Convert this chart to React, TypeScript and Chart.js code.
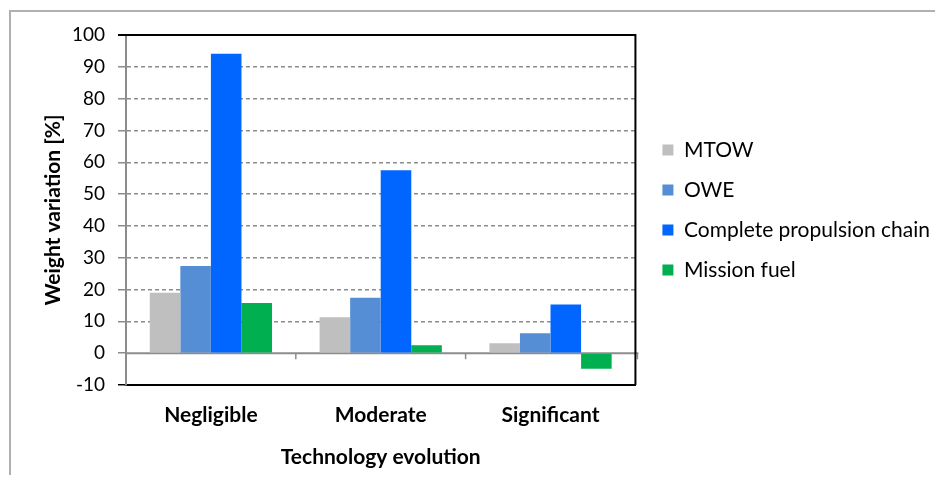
import React, { useEffect, useRef } from "react";
import { Chart, registerables } from "chart.js";

Chart.register(...registerables);

const categories = ["Negligible", "Moderate", "Significant"];
const seriesNames = ["MTOW", "OWE", "Complete propulsion chain", "Mission fuel"];
const mtowValues = [19.0, 11.3, 3.1];
const oweValues = [27.4, 17.4, 6.3];
const propulsionValues = [94.1, 57.5, 15.3];
const fuelValues = [15.8, 2.5, -4.9];
const seriesColors = ["#bfbfbf", "#558ed5", "#0066ff", "#00b050"];
const yMin = -10;
const yMax = 100;
const yStep = 10;
const yTitle = "Weight variation [%]";
const xTitle = "Technology evolution";

const FONT = "Lato, 'DejaVu Sans', sans-serif";

const framePlugin = {
  id: "frame",
  beforeDatasetsDraw(chart: any) {
    const { ctx, chartArea: a, scales } = chart;
    const y0 = scales.y.getPixelForValue(0);
    ctx.save();
    ctx.strokeStyle = "#8c8c8c";
    ctx.lineWidth = 2;
    ctx.beginPath();
    ctx.moveTo(a.left, y0);
    ctx.lineTo(a.right + 3, y0);
    ctx.stroke();
    const xs = scales.x;
    ctx.lineWidth = 1.5;
    for (let i = 0; i < categories.length; i++) {
      const b =
        i < categories.length - 1
          ? (xs.getPixelForValue(i) + xs.getPixelForValue(i + 1)) / 2
          : a.right + 2;
      ctx.beginPath();
      ctx.moveTo(b, y0);
      ctx.lineTo(b, y0 + 6);
      ctx.stroke();
    }
    ctx.restore();
  },
  afterDatasetsDraw(chart: any) {
    const { ctx, chartArea: a } = chart;
    ctx.save();
    ctx.strokeStyle = "#000";
    ctx.lineWidth = 2;
    ctx.beginPath();
    ctx.moveTo(a.left - 8, a.top);
    ctx.lineTo(a.right, a.top);
    ctx.lineTo(a.right, a.bottom);
    ctx.stroke();
    ctx.restore();
  },
};

export default function App() {
  const ref = useRef<HTMLCanvasElement | null>(null);

  useEffect(() => {
    if (!ref.current) return;
    const seriesValues = [mtowValues, oweValues, propulsionValues, fuelValues];
    const chart = new Chart(ref.current, {
      type: "bar",
      data: {
        labels: categories,
        datasets: seriesNames.map((name, i) => ({
          label: name,
          data: seriesValues[i],
          backgroundColor: seriesColors[i],
          borderWidth: 0,
          categoryPercentage: 0.72,
          barPercentage: 1.0,
        })),
      },
      options: {
        animation: false,
        responsive: true,
        maintainAspectRatio: false,
        layout: { padding: { left: 0, right: 0, top: 27, bottom: 0 } },
        plugins: {
          tooltip: { enabled: false },
          legend: {
            position: "right",
            align: "center",
            fullSize: false,
            maxWidth: 340,
            labels: {
              font: { family: FONT, size: 21 },
              color: "#000",
              boxWidth: 11,
              boxHeight: 11,
              padding: 19,
            },
          },
        },
        scales: {
          x: {
            grid: { display: false },
            border: { display: true, color: "#000", width: 2 },
            ticks: {
              font: { family: FONT, size: 21, weight: "bold" },
              color: "#000",
              padding: 10,
            },
            title: {
              display: true,
              text: xTitle,
              font: { family: FONT, size: 21, weight: "bold" },
              color: "#000",
              padding: { top: 10, bottom: 5 },
            },
            afterFit: (s: any) => {
              s.height = 90;
            },
          },
          y: {
            min: yMin,
            max: yMax,
            ticks: {
              stepSize: yStep,
              font: { family: FONT, size: 19 },
              color: "#000",
              padding: 13,
            },
            grid: {
              color: (c: any) =>
                c.tick && (c.tick.value === yMax || c.tick.value === yMin || c.tick.value === 0)
                  ? "rgba(0,0,0,0)"
                  : "#8c8c8c",
              lineWidth: 1.5,
              tickLength: 8,
              tickColor: (c: any) =>
                c.tick && (c.tick.value === yMax || c.tick.value === yMin) ? "#000" : "#8c8c8c",
              tickWidth: 1.5,
            },
            border: { display: true, color: "#8c8c8c", width: 2, dash: [4, 3] },
            title: {
              display: true,
              text: yTitle,
              font: { family: FONT, size: 21, weight: "bold" },
              color: "#000",
              padding: { top: 33, bottom: 0 },
            },
            afterFit: (s: any) => {
              s.width = 118;
            },
          },
          y2: {
            position: "right",
            display: true,
            grid: { display: false, drawOnChartArea: false },
            border: { display: false },
            ticks: { display: false },
            afterFit: (s: any) => {
              s.width = 8;
            },
          },
        },
      },
      plugins: [framePlugin],
    });
    return () => chart.destroy();
  }, []);

  return (
    <div style={{ position: "relative", width: 927, height: 467, overflow: "hidden" }}>
      <div
        style={{
          position: "absolute",
          left: 1,
          top: 2,
          width: 2000,
          height: 2000,
          border: "2px solid #b0b0b0",
        }}
      />
      <div style={{ position: "absolute", left: 0, top: 0, width: 932, height: 467 }}>
        <canvas ref={ref} />
      </div>
    </div>
  );
}
